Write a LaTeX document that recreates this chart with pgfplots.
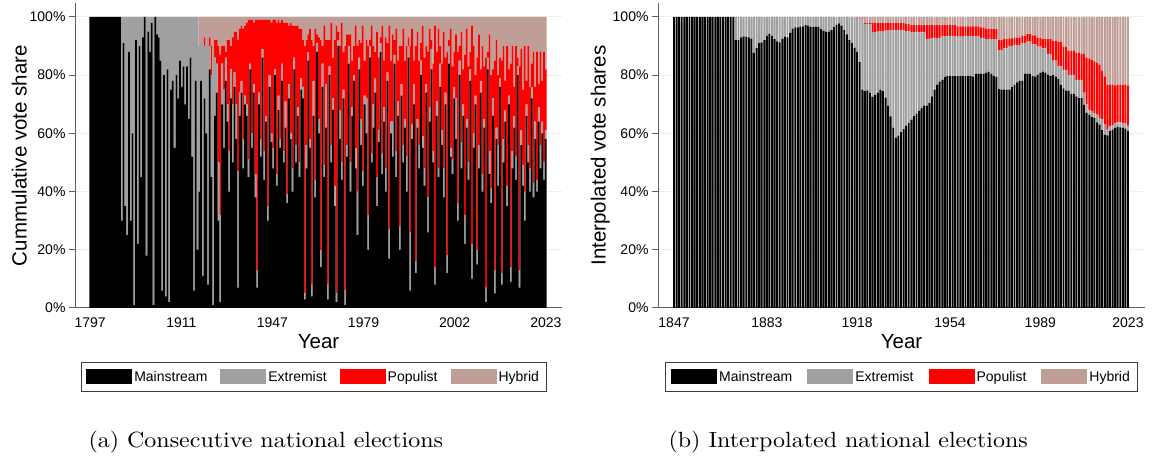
\documentclass[border=0pt]{standalone}
\usepackage{fontspec}
\usepackage{pgfplots}
\usepackage{pgfplotstable}
\pgfplotsset{compat=1.18}
\newfontfamily\arial{Liberation Sans}
\newfontfamily\capfont{lmroman10-regular}[Extension=.otf, FakeStretch=1.09]
\definecolor{mgray}{RGB}{160,160,160}
\definecolor{hyb}{RGB}{190,158,150}
\definecolor{axisgray}{RGB}{95,95,95}
\definecolor{gridc}{RGB}{232,240,241}
\definecolor{legborder}{RGB}{60,60,60}

\pgfplotstableread{
m e p h
100 0 0 0
100 0 0 0
100 0 0 0
100 0 0 0
100 0 0 0
100 0 0 0
100 0 0 0
100 0 0 0
100 0 0 0
100 0 0 0
100 0 0 0
100 0 0 0
100 0 0 0
100 0 0 0
100 0 0 0
100 0 0 0
100 0 0 0
100 0 0 0
30 70 0 0
91 9 0 0
35 65 0 0
25 75 0 0
88 12 0 0
30 70 0 0
60 40 0 0
1 99 0 0
92 8 0 0
22 78 0 0
90 10 0 0
45 55 0 0
93 7 0 0
100 0 0 0
18 82 0 0
95 5 0 0
88 12 0 0
98 2 0 0
1 99 0 0
100 0 0 0
94 6 0 0
93 7 0 0
85 15 0 0
6 94 0 0
80 20 0 0
4 96 0 0
82 18 0 0
2 98 0 0
75 25 0 0
78 22 0 0
55 45 0 0
80 20 0 0
72 28 0 0
85 15 0 0
76 24 0 0
83 17 0 0
70 30 0 0
83 17 0 0
65 35 0 0
86 14 0 0
52 48 0 0
6 94 0 0
78 22 0 0
20 80 0 0
40 50 0 10
78 14 0 8
11 80 0 9
72 18 3 7
60 30 0 10
8 85 0 7
82 8 3 7
45 35 10 10
1 88 0 11
66 20 6 8
74 10 8 8
30 20 40 10
2 30 55 13
70 14 6 10
55 20 15 10
78 8 2 12
64 6 22 8
40 14 38 8
72 10 8 10
50 20 23 7
76 5 14 5
58 12 25 5
7 40 45 8
66 8 22 4
74 4 19 3
48 10 38 4
70 3 24 3
66 4 28 2
45 6 48 1
82 2 15 1
55 5 39 1
74 3 21 2
38 8 53 1
7 6 86 1
70 4 25 1
52 6 41 1
86 3 10 1
44 10 45 1
64 2 33 1
30 5 64 1
76 4 19 1
57 3 38 2
48 7 44 1
80 2 17 1
42 4 52 2
68 5 26 1
55 3 40 2
78 6 15 1
50 4 44 2
62 9 27 2
36 3 59 2
72 5 20 3
58 2 38 2
40 8 49 3
82 4 11 3
50 6 41 3
66 3 28 3
45 5 46 4
75 4 17 4
72 4 16 8
3 2 85 10
48 8 36 8
85 3 6 6
55 3 38 4
4 4 84 8
66 12 12 10
38 6 52 4
88 3 3 6
60 5 28 7
14 6 72 8
76 8 6 10
45 4 48 3
62 15 15 8
3 5 84 8
80 3 9 8
50 6 42 2
68 4 14 14
35 7 50 8
2 3 92 3
90 2 3 5
58 10 22 10
44 6 48 2
72 3 13 12
1 5 84 10
52 4 38 6
84 6 4 6
40 10 44 6
66 3 16 15
78 2 10 10
48 7 42 3
25 15 50 10
82 4 6 8
56 9 26 9
42 5 50 3
70 3 12 15
60 12 20 8
20 12 58 10
86 4 2 8
50 3 44 3
62 8 20 10
74 5 9 12
35 10 50 5
57 4 25 14
88 3 2 7
46 7 44 3
64 5 16 15
40 8 45 7
78 3 10 9
17 10 70 3
60 4 21 15
52 12 30 6
84 3 5 8
45 9 42 4
66 5 14 15
20 8 62 10
73 4 13 10
50 6 40 4
62 3 20 15
40 12 38 10
86 4 3 7
6 20 64 10
58 5 33 4
70 7 8 15
12 4 74 10
62 3 30 5
48 8 29 15
80 5 6 9
55 4 38 3
42 6 38 14
74 3 13 10
26 12 50 12
64 5 27 4
82 7 3 8
50 4 30 16
8 6 83 3
66 5 17 12
45 3 48 4
76 8 6 10
56 5 23 16
38 10 47 5
70 4 12 14
12 6 70 12
84 6 2 8
52 3 41 4
46 5 32 17
72 4 12 12
58 14 22 6
30 6 52 12
80 5 5 10
48 9 38 5
66 4 12 18
22 10 55 13
62 3 31 4
44 6 33 17
78 4 6 12
10 12 75 3
55 5 30 10
70 3 7 20
15 5 66 14
48 8 38 6
74 4 4 18
40 6 44 10
62 3 18 17
2 5 79 14
82 4 2 12
46 8 40 6
36 5 39 20
66 6 10 18
5 8 72 15
58 4 30 8
42 14 24 20
76 3 7 14
8 4 73 15
50 8 32 10
64 4 10 22
35 7 48 10
70 3 9 18
9 5 70 16
48 6 36 10
62 4 10 24
44 8 38 10
80 3 3 14
7 6 70 17
56 5 28 11
42 7 26 25
30 10 50 10
66 4 8 22
50 6 34 10
40 8 28 24
72 4 8 16
38 5 45 12
58 6 12 24
40 4 44 12
64 5 8 23
48 8 32 12
60 4 14 22
44 6 38 12
58 3 21 18
}\lefttab

\pgfplotstableread{
m g r t
100 100 100 100
100 100 100 100
100 100 100 100
100 100 100 100
100 100 100 100
100 100 100 100
100 100 100 100
100 100 100 100
100 100 100 100
100 100 100 100
100 100 100 100
100 100 100 100
100 100 100 100
100 100 100 100
100 100 100 100
100 100 100 100
100 100 100 100
100 100 100 100
100 100 100 100
100 100 100 100
100 100 100 100
100 100 100 100
100 100 100 100
100 100 100 100
92 100 100 100
92 100 100 100
93 100 100 100
93.3 100 100 100
93.2 100 100 100
93 100 100 100
92.5 100 100 100
87.7 100 100 100
89.4 100 100 100
91 100 100 100
91.3 100 100 100
92 100 100 100
93.5 100 100 100
94.2 100 100 100
93.5 100 100 100
92.4 100 100 100
91.6 100 100 100
91.3 100 100 100
92.5 100 100 100
93.2 100 100 100
93 100 100 100
94.5 100 100 100
96 100 100 100
96.4 100 100 100
96.4 100 100 100
96.7 100 100 100
96.8 100 100 100
97.2 100 100 100
97 100 100 100
96.6 100 100 100
96.6 100 100 100
96.6 100 100 100
96.6 100 100 100
95.8 100 100 100
95.2 100 100 100
94.9 100 100 100
95 100 100 100
95.5 100 100 100
96.5 100 100 100
97.3 100 100 100
97.8 100 100 100
97 100 100 100
95.5 100 100 100
94 100 100 100
92 100 100 100
91 100 100 100
89.5 99.7 99.7 100
88 99.7 99.8 100
84.5 99.4 99.8 100
75 99.4 99.7 100
74.5 97.6 97.9 100
74.8 97.6 97.9 100
74 97.5 97.9 100
72.5 94.6 97.9 100
73.2 94.8 97.9 100
74 95 97.9 100
75 95.1 97.9 100
74.5 95.1 97.9 100
72.3 95.3 97.9 100
69.5 95.5 97.9 100
65.8 95.5 97.9 100
62 95.5 97.9 100
58.5 95.5 97.9 100
59.2 95.5 97.9 100
60.4 95.5 97.9 100
61.5 95.5 97.9 100
62.7 95.1 97.5 100
63.6 95.1 97.5 100
64.7 94.7 97.2 100
65.9 94.7 97.2 100
66.8 94.7 97.2 100
67.8 94.7 97.2 100
68.7 94.7 97.2 100
69.5 94.7 97.2 100
69.5 92.5 97.2 100
70.4 92.5 97.2 100
72.7 92.8 97.2 100
75 92.8 97.2 100
76.7 92.8 97.2 100
77.8 92.8 97.2 100
78.4 93.4 97.2 100
79.3 93.4 97.2 100
79.7 93.4 97.2 100
79.7 93.4 97.2 100
79.7 93.4 97.2 100
79.7 93.4 97.2 100
79.7 93.2 96.8 100
79.7 93.2 96.8 100
79.7 93.2 96.8 100
79.7 93.4 96.8 100
79.7 93.4 96.8 100
79.7 93.4 96.8 100
79.5 93.4 96.8 100
80.4 93.4 96.8 100
80.4 93.4 96.8 100
80.4 92.8 96.4 100
80.4 92.8 96.4 100
80.9 92.4 96 100
81.1 92.4 96 100
80.4 92.4 96 100
79.7 92.3 95.8 100
79.3 92.3 95.8 100
75.2 88.6 92 100
75 88.6 92 100
75 89.2 92.4 100
75 89.2 92.4 100
75 90 92.6 100
75.9 90 92.6 100
76.7 90.3 92.9 100
77.5 90.3 92.9 100
78 90.3 92.9 100
78 91.1 93.6 100
80.4 91.1 93.6 100
80.4 91.5 94.1 100
80.4 91.5 94.1 100
79.7 90.6 93.7 100
79.5 90.6 93.7 100
80.1 89.8 92.9 100
80.9 89.8 92.9 100
81.2 89.2 92.4 100
80.9 89.2 92.4 100
80.1 87.3 92.4 100
79.7 87.3 92.4 100
80 85 91.8 100
79.5 85 91.8 100
78.6 83 91.5 100
76.7 83 91.5 100
75.5 81.8 89.8 100
74.7 81.8 89.8 100
74.7 80.1 88.4 100
73.6 80.1 88.4 100
73.6 80.1 88.4 100
72.7 78.4 87.7 100
72.1 78.4 87.7 100
72.1 78.4 87.3 100
69.9 74 87.3 100
67 70 86 100
66.4 68.1 85.8 100
65.6 67.5 85.3 100
65.3 67 84.7 100
63.8 66.4 84.2 100
63 65.3 83.6 100
61.1 65 81.6 100
59.6 63 79.6 100
59.3 61.3 76.7 100
60.8 62.5 76.7 100
61.3 62.8 76.7 100
61.9 63.4 76.5 100
62.2 63.8 76.7 100
62.1 63.8 76.7 100
61.9 63.6 76.7 100
61.6 63.4 76.7 100
60.8 62.7 76.4 100
}\righttab

\pgfplotsset{
  legimg/.style={legend image code/.code={\fill[##1] (0bp,-7.5bp) rectangle (46bp,7.5bp);}},
  panel/.style={
    scale only axis, width=487bp, height=305bp,
    ymin=0, ymax=104.8,
    axis lines*=left,
    axis line style={draw=axisgray, line width=1bp},
    ytick={0,20,40,60,80,100},
    yticklabels={0\%,20\%,40\%,60\%,80\%,100\%},
    ymajorgrids, major grid style={draw=gridc, line width=1bp},
    tick align=outside, major tick length=6bp,
    ytick style={draw=axisgray, line width=1bp},
    xtick style={draw=none},
    tick label style={font=\arial\fontsize{14bp}{16bp}\selectfont, text=black},
    xlabel style={font=\arial\fontsize{20.5bp}{24bp}\selectfont},
    ylabel style={font=\arial\fontsize{20.5bp}{24bp}\selectfont, yshift=-4bp},
    xlabel={Year},
    ybar stacked,
    legend columns=4,
    legend style={anchor=north, draw=legborder, line width=0.8bp,
      font=\arial\fontsize{14bp}{16bp}\selectfont,
      inner ysep=6.5bp},
  }
}

\begin{document}
\begin{tikzpicture}[x=1bp,y=1bp]
\path[use as bounding box] (0,0) rectangle (1152,458);
\begin{axis}[panel, at={(75bp,150bp)}, anchor=south west,
  xmin=-8.63, xmax=268.2, bar width=1,
  xtick={0,51.8,103.6,155.4,207.2,259},
  xticklabels={1797,1911,1947,1979,2002,2023},
  ylabel={Cummulative vote share},
  legend style={at={(0.49,-0.177)}, inner xsep=5bp,
    /tikz/every even column/.append style={column sep=11bp}}]
\addplot[fill=black, draw=none, legimg] table[x expr=\coordindex, y=m]{\lefttab};
\addlegendentry{Mainstream}
\addplot[fill=mgray, draw=none, legimg] table[x expr=\coordindex, y=e]{\lefttab};
\addlegendentry{Extremist}
\addplot[fill=red, draw=none, legimg] table[x expr=\coordindex, y=p]{\lefttab};
\addlegendentry{Populist}
\addplot[fill=hyb, draw=none, legimg] table[x expr=\coordindex, y=h]{\lefttab};
\addlegendentry{Hybrid}
\end{axis}
\begin{axis}[panel, at={(658bp,150bp)}, anchor=south west,
  xmin=-6.2, xmax=182.6, bar width=0.76,
  xtick={0,36,71,107,142,176},
  xticklabels={1847,1883,1918,1954,1989,2023},
  ylabel={Interpolated vote shares},
  legend style={at={(0.5,-0.177)}, inner xsep=6bp,
    /tikz/every even column/.append style={column sep=13bp}}]
\addplot[fill=black, draw=none, legimg] table[x expr=\coordindex, y=m]{\righttab};
\addlegendentry{Mainstream}
\addplot[fill=mgray, draw=none, legimg] table[x expr=\coordindex, y expr=\thisrow{g}-\thisrow{m}]{\righttab};
\addlegendentry{Extremist}
\addplot[fill=red, draw=none, legimg] table[x expr=\coordindex, y expr=\thisrow{r}-\thisrow{g}]{\righttab};
\addlegendentry{Populist}
\addplot[fill=hyb, draw=none, legimg] table[x expr=\coordindex, y expr=\thisrow{t}-\thisrow{r}]{\righttab};
\addlegendentry{Hybrid}
\end{axis}
\node[anchor=base west, font=\capfont\fontsize{22bp}{26bp}\selectfont] at (85,10) {(a) Consecutive national elections};
\node[anchor=base west, font=\capfont\fontsize{22bp}{26bp}\selectfont] at (665,10) {(b) Interpolated national elections};
\end{tikzpicture}
\end{document}
